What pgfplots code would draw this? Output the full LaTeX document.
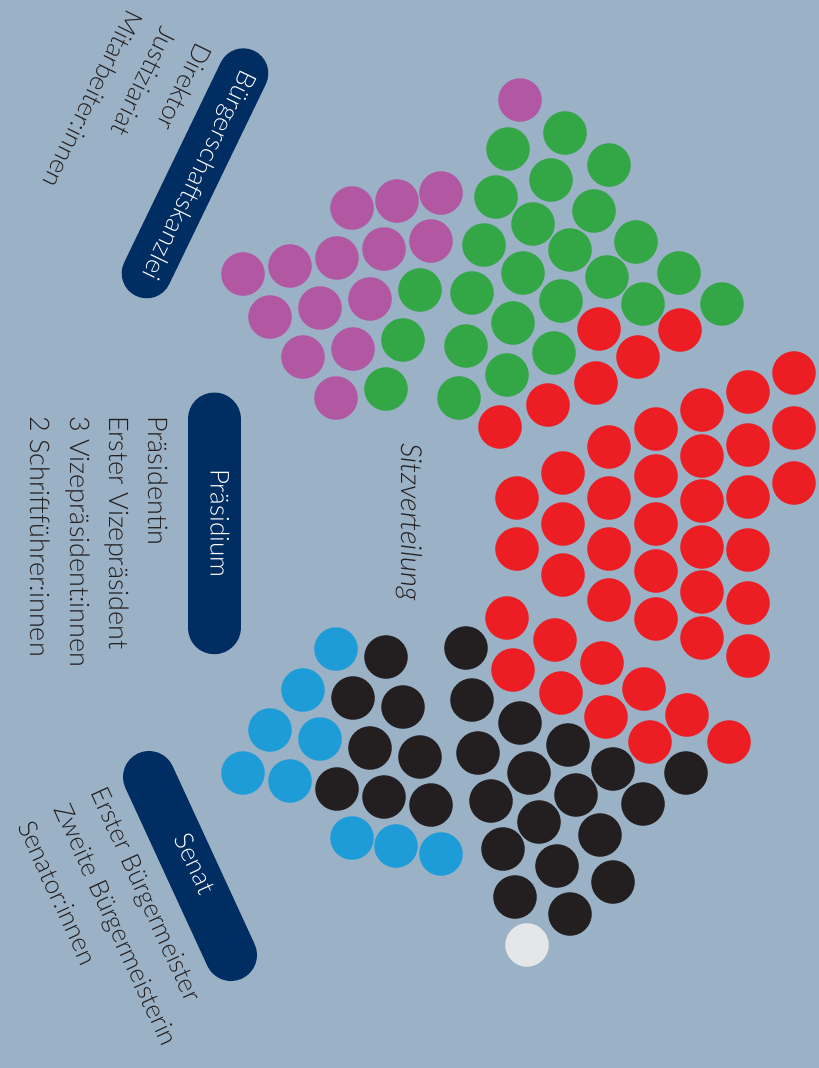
\documentclass[border=0pt]{standalone}
\usepackage{pgfplots}
\pgfplotsset{compat=1.18}
\usepackage{fontspec}
\setmainfont{Lato Light}[ItalicFont={Lato Light Italic}]
\definecolor{bgc}{RGB}{155,177,197}
\definecolor{navy}{RGB}{0,45,98}
\definecolor{cpurple}{RGB}{178,87,162}
\definecolor{cgreen}{RGB}{51,166,70}
\definecolor{cred}{RGB}{237,29,36}
\definecolor{cblack}{RGB}{35,31,32}
\definecolor{cblue}{RGB}{30,156,216}
\definecolor{cgrey}{RGB}{228,230,232}
\definecolor{ctext}{RGB}{35,31,32}
\begin{document}
\begin{tikzpicture}
\begin{axis}[width=819pt,height=1068pt,scale only axis,
  xmin=0,xmax=819,ymin=0,ymax=1068,y dir=reverse,hide axis,clip=false]
\fill[bgc] (axis cs:0,0) rectangle (axis cs:819,1068);
% pills
\draw[navy,line width=50pt,line cap=round] (axis cs:243.3,73.3) -- (axis cs:146.7,273.3);
\draw[navy,line width=53pt,line cap=round] (axis cs:214,419) -- (axis cs:214,627.7);
\draw[navy,line width=52pt,line cap=round] (axis cs:149,777) -- (axis cs:231,955);
\tikzset{lab/.style={inner sep=0pt,text height=0.7em,text depth=0pt,font=\fontsize{26}{30}\selectfont}}
\node[lab,white,rotate=-115.8] at (axis cs:195,173.3) {Bürgerschaftskanzlei};
\node[lab,white,rotate=-90] at (axis cs:214,523.4) {Präsidium};
\node[lab,white,rotate=-65.3] at (axis cs:190,866) {Senat};
% labels
\node[lab,ctext,rotate=-116,anchor=west] at (axis cs:199.8,43.2) {Direktor};
\node[lab,ctext,rotate=-116,anchor=west] at (axis cs:165.1,26.4) {Justiziariat};
\node[lab,ctext,rotate=-116,anchor=west] at (axis cs:130.5,9.5) {Mitarbeiter:innen};
\node[lab,ctext,rotate=-90,anchor=base west,font=\fontsize{27}{30}\selectfont] at (axis cs:148,416) {Präsidentin};
\node[lab,ctext,rotate=-90,anchor=base west,font=\fontsize{27}{30}\selectfont] at (axis cs:109.3,416) {Erster Vizepräsident};
\node[lab,ctext,rotate=-90,anchor=base west,font=\fontsize{27}{30}\selectfont] at (axis cs:70,416) {3 Vizepräsident:innen};
\node[lab,ctext,rotate=-90,anchor=base west,font=\fontsize{27}{30}\selectfont] at (axis cs:30.7,416) {2 Schriftführer:innen};
\node[lab,ctext,rotate=-65.5,anchor=west] at (axis cs:93.4,791.2) {Erster Bürgermeister};
\node[lab,ctext,rotate=-65.5,anchor=west] at (axis cs:57.0,807.8) {Zweite Bürgermeisterin};
\node[lab,ctext,rotate=-65.5,anchor=west] at (axis cs:20.6,824.4) {Senator:innen};
\node[inner sep=0pt,ctext,rotate=-90,anchor=base west,font=\fontsize{29}{32}\selectfont\itshape] at (axis cs:401,443) {Sitzverteilung};
% seats
\pgfplotsset{seat/.style={only marks,mark=*,mark size=21.5pt,color=#1,fill=#1}}
\addplot[seat=cpurple] coordinates {
(520,100) (352,208) (397,201) (441,193) (243,274) (290,266) (337,258) (384,249)
(431,241) (270,317) (320,308) (370,299) (303,357) (353,349) (336,398)};
\addplot[seat=cgreen] coordinates {
(508,149) (565,133) (609,165) (551,180) (496,197) (594,211) (533,224) (636,242)
(484,245) (570,250) (523,273) (607,277) (679,273) (420,290) (472,293) (561,301)
(643,304) (722,304) (513,323) (403,340) (466,346) (554,353) (507,375) (386,389) (459,398)};
\addplot[seat=cred] coordinates {
(599,329) (680,330) (638,357) (548,405) (596,383) (500,427) (794,373) (748,392)
(702,410) (656,429) (794,428) (609,447) (563,473) (517,498) (748,445) (702,456)
(656,476) (609,498) (563,524) (517,549) (794,483) (748,497) (702,501) (656,524)
(609,549) (563,575) (702,547) (748,550) (656,571) (609,600) (702,592) (748,603)
(656,619) (702,638) (748,656) (507,618) (555,640) (602,663) (513,670) (644,689)
(687,715) (729,742) (561,693) (606,717) (650,742)};
\addplot[seat=cblack] coordinates {
(386,657) (353,698) (403,707) (370,748) (420,757) (337,789) (384,797) (431,805)
(466,648) (472,700) (520,723) (568,745) (613,769) (686,773) (478,753) (529,773)
(576,795) (643,804) (491,801) (539,822) (600,835) (503,849) (557,866) (613,882)
(515,897) (570,914)};
\addplot[seat=cblue] coordinates {
(336,649) (303,690) (270,730) (320,739) (243,773) (290,781) (352,838) (396,846) (441,854)};
\addplot[seat=cgrey] coordinates {(527,945)};
\end{axis}
\end{tikzpicture}
\end{document}
